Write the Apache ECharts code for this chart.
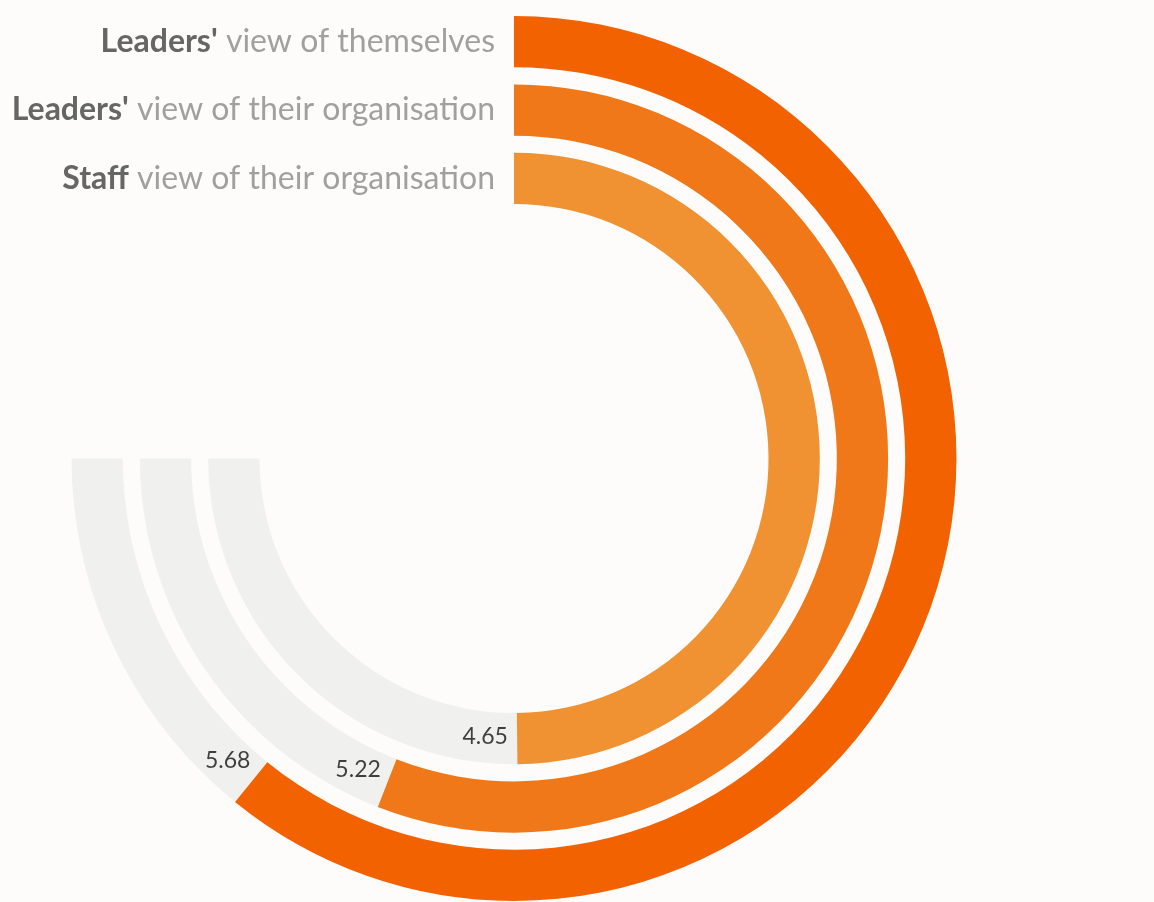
<!DOCTYPE html>
<html>
<head>
<meta charset="utf-8">
<script src="https://cdn.jsdelivr.net/npm/echarts@6/dist/echarts.min.js"></script>
<style>
  html, body { margin: 0; padding: 0; background: #fdfcfa; }
  #chart { width: 1154px; height: 902px; }
</style>
</head>
<body>
<div id="chart"></div>
<script>
// Rings from the inside out
const groupNames = ['Staff', "Leaders'", "Leaders'"];
const viewNames = ['view of their organisation', 'view of their organisation', 'view of themselves'];
const scores = [4.65, 5.22, 5.68];
const scaleMax = 7;            // full track length (three quarters of a turn)
const trackValues = [7, 7, 7];

const ringColors = ['#f09232', '#f07819', '#f26200'];
const categories = groupNames.map((g, i) => g + '|' + viewNames[i]);

const sweepDeg = 270;
const labelLead = 32;          // how far past the end of a bar its value sits, along the arc

// Value labels sit just beyond the end of each bar, following the arc direction
function valueLabelOffset(v) {
  const t = (v / scaleMax) * sweepDeg * Math.PI / 180;
  return [labelLead * Math.cos(t) - 2 * Math.sin(t), labelLead * Math.sin(t) + 2 * Math.cos(t)];
}

const chart = echarts.init(document.getElementById('chart'), null, { renderer: 'canvas' });

chart.setOption({
  backgroundColor: '#fdfcfa',
  animation: false,
  polar: {
    center: [514, 458.5],
    radius: [246, 451]
  },
  angleAxis: {
    type: 'value',
    min: 0,
    max: scaleMax * 360 / sweepDeg,
    startAngle: 90,
    clockwise: true,
    axisLine: { show: false },
    axisTick: { show: false },
    axisLabel: { show: false },
    splitLine: { show: false }
  },
  radiusAxis: {
    type: 'category',
    data: categories,
    axisLine: { show: false },
    axisTick: { show: false },
    splitLine: { show: false },
    axisLabel: {
      interval: 0,
      margin: 19,
      formatter: function (v) {
        const p = v.split('|');
        return '{b|' + p[0] + '}{n| ' + p[1] + '}';
      },
      rich: {
        b: { fontFamily: 'Lato', fontWeight: 'bold', fontSize: 32, color: '#666666' },
        n: { fontFamily: 'Lato', fontSize: 32, color: '#a0a0a0' }
      }
    }
  },
  series: [
    {
      type: 'bar',
      coordinateSystem: 'polar',
      data: trackValues,
      barCategoryGap: '25%',
      barGap: '-100%',
      itemStyle: { color: '#f0f0ef' },
      silent: true,
      z: 1
    },
    {
      type: 'bar',
      coordinateSystem: 'polar',
      data: scores.map((v, i) => ({ value: v, itemStyle: { color: ringColors[i] } })),
      barCategoryGap: '25%',
      barGap: '-100%',
      z: 2
    },
    {
      type: 'scatter',
      coordinateSystem: 'polar',
      symbolSize: 0,
      silent: true,
      z: 3,
      data: scores.map((v, i) => ({
        value: [i, v],
        label: { offset: valueLabelOffset(v) }
      })),
      label: {
        show: true,
        position: 'inside',
        align: 'center',
        verticalAlign: 'middle',
        formatter: p => p.value[1].toFixed(2),
        fontFamily: 'Lato',
        fontSize: 23,
        color: '#111111'
      }
    }
  ]
});
</script>
</body>
</html>
